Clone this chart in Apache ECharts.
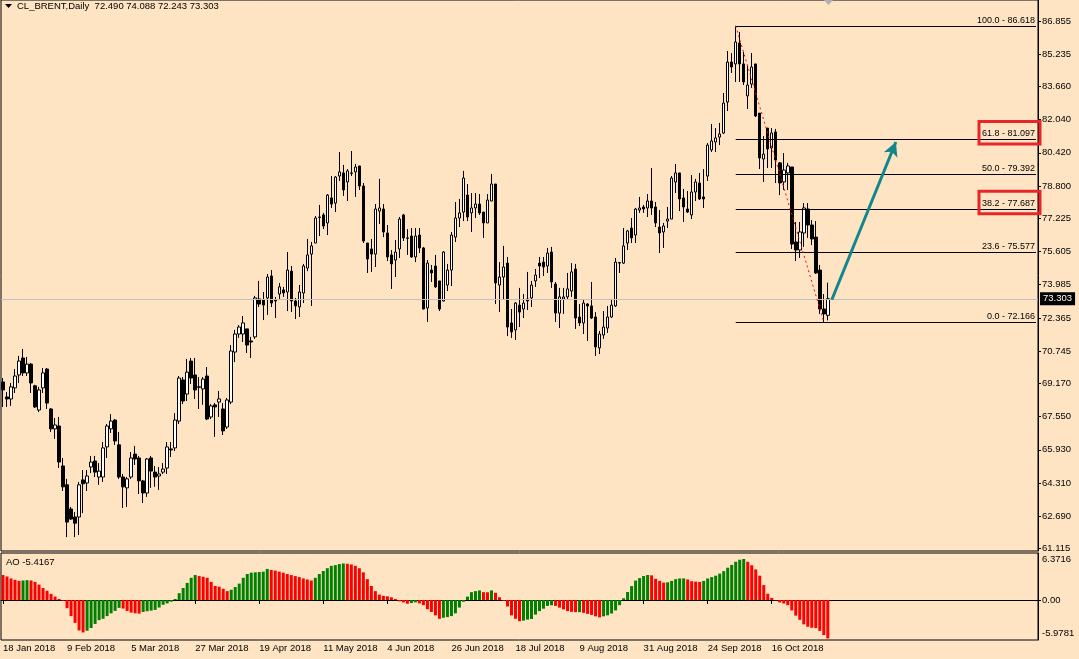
<!DOCTYPE html>
<html><head><meta charset="utf-8">
<script src="https://cdn.jsdelivr.net/npm/echarts@6/dist/echarts.min.js"></script>
<style>html,body{margin:0;padding:0;background:#ffe4c4;}#c{width:1079px;height:659px;}</style>
</head><body><div id="c"></div>
<script>
// ---------- DATA ----------
const opens = [
69.24,68.51,68.41,68.95,69.58,70.41,69.68,70.11,69.05,67.87,
68.95,69.87,67.92,66.95,67.09,65.14,64.22,63.04,62.65,62.65,
64.46,64.31,65.09,65.38,64.60,64.60,66.07,66.95,67.38,66.17,
64.60,64.07,64.60,65.72,65.53,64.41,63.82,65.53,64.84,64.65,
64.84,65.04,65.97,66.02,67.33,69.34,68.65,70.26,69.58,69.00,
68.90,69.53,67.53,68.12,68.26,67.92,67.04,68.26,70.70,71.58,
71.58,71.83,71.24,71.44,73.29,73.24,73.34,74.41,73.24,73.53,
73.73,73.63,74.65,73.19,72.90,73.58,74.80,75.48,76.02,77.29,
77.39,77.00,78.22,77.97,79.29,79.44,79.00,79.44,79.49,79.78,
78.80,76.02,75.73,75.48,77.58,77.68,76.51,75.44,75.19,75.73,
77.39,76.27,76.36,75.34,76.41,75.78,72.85,74.70,74.90,74.17,
73.19,73.97,74.70,76.31,77.24,77.53,78.36,77.49,77.73,77.92,
77.53,77.00,78.07,78.90,73.97,74.36,75.04,72.12,71.78,72.99,
72.80,73.29,73.34,74.17,75.04,75.09,74.90,75.58,74.02,72.60,
73.29,73.39,73.68,74.75,72.41,72.12,73.04,72.95,72.41,70.90,
71.53,71.87,72.41,72.95,75.04,75.04,76.02,76.75,76.41,77.63,
77.78,77.73,78.07,77.78,76.80,76.56,77.09,77.19,79.00,79.44,
78.22,77.68,77.39,78.51,78.95,78.27,79.29,80.56,80.95,81.19,
81.39,82.90,84.85,84.76,85.78,84.76,83.20,83.78,84.76,82.36,
80.12,81.63,80.66,81.44,79.93,79.00,79.44,79.73,76.07,75.68,
76.51,77.68,76.90,76.31,74.70,72.80,72.490];
const closes = [
68.85,68.41,69.00,69.53,70.26,69.68,70.11,69.19,68.02,68.85,
69.68,68.21,66.95,67.14,65.33,64.12,62.40,62.55,62.35,64.22,
64.27,64.65,65.33,64.84,64.89,66.02,67.09,67.33,66.36,64.60,
64.12,64.51,65.53,65.48,64.41,63.82,65.48,64.89,64.60,64.75,
64.99,66.07,65.92,67.38,69.43,68.31,69.72,69.43,68.85,68.98,
69.38,67.43,68.07,68.02,68.41,66.85,68.36,70.75,71.58,71.92,
72.12,71.04,71.19,73.34,73.04,72.99,74.36,73.09,73.19,73.88,
73.58,74.70,73.19,72.95,73.63,74.90,75.44,75.88,77.24,77.27,
76.85,78.36,77.92,79.24,79.49,78.61,79.54,79.42,79.73,78.80,
76.12,75.24,75.48,77.68,77.73,76.56,75.34,75.00,75.58,77.19,
76.27,76.25,75.34,76.36,75.78,72.80,75.04,74.56,73.88,72.80,
75.58,74.70,76.41,77.24,77.49,79.19,77.29,77.73,77.92,77.49,
77.00,78.12,78.90,74.07,74.36,74.85,71.92,71.68,73.09,72.65,
73.09,73.19,73.97,74.46,74.90,74.85,75.53,74.12,72.60,73.39,
73.39,73.78,74.61,72.36,72.12,73.09,72.95,72.36,70.95,71.58,
71.92,72.41,72.99,75.09,75.07,75.88,76.61,76.27,77.68,77.73,
77.68,78.07,77.73,77.00,76.51,76.85,77.19,79.19,79.44,78.17,
77.78,77.53,78.51,79.00,78.17,78.17,80.80,81.00,81.15,81.34,
82.85,84.85,84.61,85.83,84.76,83.88,83.73,84.61,82.22,80.17,
80.36,80.61,81.39,80.07,78.95,79.58,79.78,75.97,75.68,76.56,
77.73,76.90,76.22,74.56,72.80,72.56,73.303];
const lows = [
68.02,68.02,68.07,68.70,69.19,69.53,69.53,68.70,67.97,67.77,
68.70,67.92,66.80,66.46,65.04,63.92,61.67,62.50,61.67,61.77,
62.84,63.92,64.79,64.60,64.22,64.36,65.53,66.75,66.17,64.51,
63.09,63.14,64.51,65.19,63.77,63.33,63.63,64.07,64.12,63.97,
64.75,64.75,65.58,65.87,67.19,68.16,68.31,69.14,68.41,67.92,
68.12,67.38,67.43,66.56,67.53,66.65,66.95,68.16,70.21,71.39,
71.19,70.65,70.41,71.34,72.90,72.26,72.51,72.90,72.36,73.29,
73.39,72.70,72.65,72.31,72.41,73.09,74.65,72.95,76.02,76.36,
76.70,76.41,77.73,77.53,79.05,78.32,78.07,79.29,78.27,78.61,
76.02,74.56,74.61,74.85,76.95,76.31,75.14,73.78,74.36,75.29,
76.12,75.44,75.30,75.09,75.53,72.78,72.17,74.12,73.83,72.70,
73.17,73.68,73.92,76.07,76.80,77.09,77.09,76.56,77.24,77.39,
76.27,77.00,78.07,73.04,72.65,73.29,71.48,71.39,71.29,71.92,
72.36,72.75,72.90,73.88,74.31,74.41,74.56,73.83,72.17,71.87,
72.56,73.29,73.39,71.83,71.97,71.58,71.24,72.31,70.51,70.60,
71.34,71.63,72.36,72.90,74.56,75.00,75.68,76.02,76.02,77.49,
77.49,77.29,77.39,76.80,75.53,75.78,76.75,77.19,78.46,77.58,
77.05,77.49,77.19,78.07,78.12,77.73,79.05,80.46,80.46,80.80,
81.34,82.46,84.32,83.88,83.88,83.73,82.56,83.59,82.17,79.63,
79.00,79.68,79.68,78.95,78.36,78.61,78.61,75.73,75.14,75.29,
75.83,76.27,75.92,74.51,72.56,72.166,72.243];
const highs = [
69.43,68.75,69.19,69.87,70.51,70.85,70.46,70.16,69.10,69.00,
69.92,69.92,67.97,67.48,67.53,65.53,64.51,63.14,62.89,64.36,
64.94,64.94,65.63,65.63,65.28,66.31,67.19,67.67,67.43,66.80,
64.75,64.60,65.82,66.12,65.63,64.46,65.53,65.63,65.14,65.09,
65.28,66.31,66.31,67.72,69.53,69.48,70.36,70.41,70.41,69.48,
69.48,69.97,68.16,68.21,68.80,68.21,68.46,71.04,71.78,72.02,
72.46,71.83,71.44,73.44,74.17,73.63,74.51,74.70,73.39,74.07,
73.88,75.58,74.90,73.34,73.97,75.00,76.22,76.07,77.34,77.88,
77.49,78.41,79.29,79.29,80.46,79.83,79.63,80.51,79.88,79.78,
78.95,76.02,76.22,77.92,79.15,77.92,76.90,75.68,76.17,77.29,
77.44,76.70,76.75,76.75,76.75,75.83,75.19,74.95,75.44,74.17,
75.63,75.00,76.56,78.02,78.17,79.54,78.90,78.46,78.46,78.41,
77.53,78.41,79.39,78.90,75.09,75.88,75.34,72.80,73.14,73.83,
73.53,74.61,74.17,74.75,75.34,75.34,75.78,75.83,74.12,73.83,
73.83,74.56,75.04,75.00,73.04,73.29,73.09,74.12,72.65,71.73,
72.70,72.95,73.29,75.29,75.09,76.75,76.66,77.24,77.73,78.27,
77.88,78.41,79.68,78.02,77.63,77.00,77.78,79.29,79.88,79.44,
78.66,78.56,79.34,79.15,79.44,79.63,80.90,81.83,81.63,81.88,
83.34,85.39,85.29,86.618,86.32,85.34,84.71,85.29,84.76,82.36,
81.24,81.63,81.63,81.59,79.97,80.41,79.93,79.73,77.05,77.05,
77.97,77.97,77.14,77.09,74.95,73.53,74.088];
const aoValues = [
3.88,3.66,3.35,3.13,2.97,3.03,3.08,3.03,2.81,2.39,
1.86,1.43,0.96,0.53,0.16,-0.11,-1.27,-2.50,-3.56,-4.73,
-5.04,-4.78,-4.35,-3.72,-3.13,-2.92,-2.50,-2.07,-1.70,-1.22,
-1.33,-1.70,-1.96,-2.07,-2.12,-1.86,-1.75,-1.65,-1.54,-1.17,
-0.74,-0.53,-0.27,0.16,1.06,1.86,2.66,3.45,3.88,3.72,
3.61,3.45,2.81,2.18,2.07,1.75,1.38,1.59,2.02,2.55,
3.45,4.04,4.25,4.30,4.35,4.41,4.83,4.67,4.57,4.41,
4.25,4.04,3.88,3.72,3.56,3.35,3.19,3.03,3.45,4.04,
4.51,4.94,5.31,5.42,5.58,5.68,5.63,5.52,5.31,4.94,
4.30,3.24,2.18,1.38,0.85,0.64,0.58,0.42,0.16,-0.21,
-0.37,-0.58,-0.48,-0.37,-0.53,-0.80,-1.43,-1.86,-2.39,-2.92,
-2.76,-2.66,-2.50,-2.07,-1.17,-0.27,0.53,1.22,1.38,1.49,
1.22,1.20,1.49,1.12,0.42,-0.11,-1.01,-2.39,-2.92,-3.29,
-3.20,-3.05,-2.95,-2.27,-1.73,-1.35,-0.92,-0.81,-0.92,-1.19,
-1.46,-1.73,-1.84,-1.89,-1.89,-2.00,-2.16,-2.32,-2.54,-2.70,
-2.54,-2.38,-2.10,-1.62,-0.81,0.27,1.24,2.16,3.02,3.40,
3.73,3.89,3.83,3.29,2.97,2.70,2.75,2.97,3.24,3.35,
3.36,3.19,2.92,2.86,2.80,2.97,3.35,3.56,3.78,4.10,
4.48,5.02,5.45,5.94,6.26,6.3716,5.94,5.40,4.75,3.78,
2.32,0.97,0.32,-0.05,-0.38,-0.54,-0.81,-1.62,-2.43,-3.08,
-3.78,-4.16,-4.32,-4.37,-4.80,-5.45,-5.9781];
const priceTicks = [86.855,85.235,83.660,82.040,80.420,78.800,77.225,75.605,73.985,72.365,70.745,69.170,67.550,65.930,64.310,62.690,61.115];
const aoTicks = [-5.9781, 0, 6.3716];
const fibPcts = ['100.0','61.8','50.0','38.2','23.6','0.0'];
const fibLevels = [86.618,81.097,79.392,77.687,75.577,72.166];
const boxedLevels = [81.097,77.687];
const fibStartIndex = 183, trendEndIndex = 205;
const arrowFrom = [207, 73.25], arrowTo = [222.5, 80.95];
const lastPrice = 73.303;
const aoTitle = 'AO -5.4167';
const symbolName = 'CL_BRENT,Daily';
const holidays = ['2018-03-30'];
const totalSlots = 259;
const monthNames = ['Jan','Feb','Mar','Apr','May','Jun','Jul','Aug','Sep','Oct','Nov','Dec'];

// ---------- BUILD ----------
const categories = [];
let d = new Date(Date.UTC(2018,0,18));
while (categories.length < opens.length) {
  const wd = d.getUTCDay(), iso = d.toISOString().slice(0,10);
  if (wd !== 0 && wd !== 6 && holidays.indexOf(iso) < 0)
    categories.push(d.getUTCDate() + ' ' + monthNames[d.getUTCMonth()] + ' ' + d.getUTCFullYear());
  d = new Date(d.getTime() + 86400000);
}
while (categories.length < totalSlots) categories.push('');

const FONT = 'Liberation Sans';
const candleData = opens.map((o,i) => [o, closes[i], lows[i], highs[i]]);
const RED = '#ff0000', GREEN = '#008000';
const aoData = aoValues.map((v,i) => ({value: v, itemStyle: {color: i === 0 ? RED : (v >= aoValues[i-1] ? GREEN : RED)}}));
const lastIdx = totalSlots - 1;

const markData = fibLevels.map((lv,k) => [
  {coord:[fibStartIndex, lv], symbol:'none',
   lineStyle:{color:'#000', width:1, type:'solid'},
   label:{show:true, position:'insideEndTop', distance:1, formatter: fibPcts[k] + ' - ' + lv.toFixed(3),
          color:'#000', fontSize:9, fontFamily:FONT}},
  {coord:[lastIdx, lv], symbol:'none'}
]);
markData.push({yAxis: lastPrice, symbol:'none', lineStyle:{color:'#c0c0c0', width:1, type:'solid'},
  label:{show:true, position:'end', distance:2, formatter: lastPrice.toFixed(3), backgroundColor:'#000',
         color:'#fff', padding:[2,3,1,3], fontSize:9.5, fontFamily:FONT}});
markData.push([
  {coord:[fibStartIndex, fibLevels[0]], symbol:'none', lineStyle:{color:'#ff0000', width:1, type:[2,3]}, label:{show:false}},
  {coord:[trendEndIndex, fibLevels[5]], symbol:'none'}
]);
markData.push([
  {coord:arrowFrom, symbol:'none', lineStyle:{color:'#13868c', width:3, type:'solid'}, label:{show:false}},
  {coord:arrowTo, symbol:'arrow', symbolSize:[11,14]}
]);

const chart = echarts.init(document.getElementById('c'), null, {renderer:'canvas'});
const last = opens.length - 1;
chart.setOption({
  animation:false,
  backgroundColor:'#ffe4c4',
  textStyle:{fontFamily:FONT},
  grid:[
    {left:1, right:41, top:0, height:551, show:true, borderColor:'#000', borderWidth:1, backgroundColor:'transparent'},
    {left:1, right:41, top:553, height:87, show:true, borderColor:'#000', borderWidth:1, backgroundColor:'transparent'}
  ],
  xAxis:[
    {gridIndex:0, type:'category', data:categories, boundaryGap:true,
     axisLine:{show:false}, axisTick:{show:false}, axisLabel:{show:false}, splitLine:{show:false}},
    {gridIndex:1, type:'category', data:categories, boundaryGap:true,
     axisLine:{show:true, lineStyle:{color:'#000'}},
     axisTick:{show:true, alignWithLabel:true, length:4, lineStyle:{color:'#000'},
               interval:(i,v) => v !== '' && i % 16 === 0},
     axisLabel:{interval:(i,v) => v !== '' && i % 16 === 0, align:'left', margin:3,
                color:'#000', fontSize:9.5, fontFamily:FONT},
     splitLine:{show:false}}
  ],
  yAxis:[
    {gridIndex:0, type:'value', position:'right', min:60.99, max:87.88,
     axisLine:{show:true, lineStyle:{color:'#000'}}, splitLine:{show:false},
     axisTick:{show:true, customValues:priceTicks, length:3, lineStyle:{color:'#000'}},
     axisLabel:{customValues:priceTicks, formatter:v => v.toFixed(3), color:'#000', fontSize:9.5, fontFamily:FONT, margin:4}},
    {gridIndex:1, type:'value', position:'right', min:-6.216, max:7.304,
     axisLine:{show:true, lineStyle:{color:'#000'}}, splitLine:{show:false},
     axisTick:{show:true, customValues:[0], length:3, lineStyle:{color:'#000'}},
     axisLabel:{customValues:aoTicks, formatter:v => v === 0 ? '0.00' : v.toFixed(4),
                verticalAlignMinLabel:'bottom', color:'#000', fontSize:9.5, fontFamily:FONT, margin:4}}
  ],
  series:[
    {type:'candlestick', xAxisIndex:0, yAxisIndex:0, data:candleData, barWidth:3,
     itemStyle:{color:'#ffffff', color0:'#000000', borderColor:'#000000', borderColor0:'#000000', borderWidth:1},
     markLine:{silent:true, symbol:['none','none'], animation:false, label:{show:false}, data:markData}},
    {type:'custom', xAxisIndex:0, yAxisIndex:0, clip:false, silent:true, z:10,
     data: boxedLevels.map(v => [0, v]),
     renderItem:(params, api) => {
       const y = api.coord([0, api.value(1)])[1];
       const cs = params.coordSys;
       const right = cs.x + cs.width;
       return {type:'rect', shape:{x:right-59, y:y-17.5, width:61, height:22.5},
               style:{fill:'none', stroke:'#e8262a', lineWidth:3}};
     }},
    {type:'bar', xAxisIndex:1, yAxisIndex:1, data:aoData, barWidth:3}
  ],
  graphic:[
    {type:'polygon', shape:{points:[[5,4],[12,4],[8.5,8]]}, style:{fill:'#000'}},
    {type:'text', left:17, top:1, style:{text: symbolName + '  ' + [opens[last], highs[last], lows[last], closes[last]].map(v=>v.toFixed(3)).join(' '),
      font:'9.5px "Liberation Sans"', fill:'#000'}},
    {type:'text', left:6, top:557, style:{text: aoTitle, font:'9.5px "Liberation Sans"', fill:'#000'}},
    {type:'polygon', shape:{points:[[824,0],[833,0],[828.5,5]]}, style:{fill:'#b0b0b0'}}
  ]
});
</script></body></html>
